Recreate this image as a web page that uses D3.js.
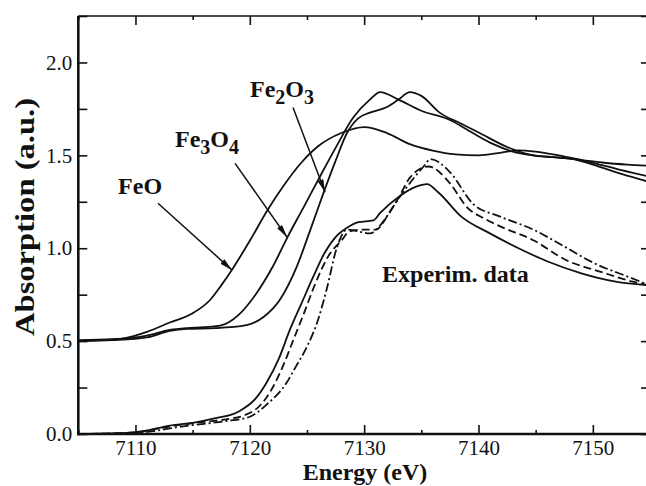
<!DOCTYPE html>
<html>
<head>
<meta charset="utf-8">
<script src="https://cdn.jsdelivr.net/npm/d3@7"></script>
<style>
  body { margin: 0; background: #fff; }
  svg { display: block; }
  svg text { font-family: "Liberation Serif", "Times New Roman", Times, serif !important; fill: #111; }
</style>
</head>
<body>
<svg id="chart" width="646" height="486"></svg>
<script>

var feoE   = [7105, 7107, 7109, 7111, 7113, 7115, 7116.5, 7117.5, 7118.5, 7120, 7121.5, 7123, 7124.5, 7126, 7128, 7130, 7132, 7134, 7136, 7138, 7140, 7142, 7143.5, 7145, 7147, 7149, 7151, 7153, 7155];
var feoA   = [0.500, 0.505, 0.515, 0.55, 0.60, 0.65, 0.72, 0.80, 0.89, 1.04, 1.20, 1.34, 1.46, 1.55, 1.62, 1.652, 1.62, 1.56, 1.525, 1.505, 1.50, 1.515, 1.527, 1.52, 1.50, 1.475, 1.46, 1.45, 1.443];

var fe3o4E = [7105, 7108, 7111, 7113, 7114.5, 7116, 7117.5, 7119, 7120.5, 7122, 7123.3, 7124.7, 7126, 7127.5, 7129, 7130.5, 7131.4, 7133, 7135, 7137.5, 7139.5, 7141.3, 7143, 7144.8, 7146.5, 7148.3, 7150, 7152.5, 7155];
var fe3o4A = [0.505, 0.51, 0.53, 0.56, 0.57, 0.575, 0.585, 0.64, 0.75, 0.90, 1.06, 1.22, 1.37, 1.54, 1.70, 1.80, 1.84, 1.80, 1.74, 1.69, 1.62, 1.56, 1.52, 1.50, 1.49, 1.48, 1.46, 1.42, 1.385];

var fe2o3E = [7105, 7108, 7111, 7113, 7114.5, 7117, 7119.7, 7121.2, 7122.6, 7124.1, 7125.3, 7126.4, 7127.5, 7128.5, 7129.5, 7130.5, 7132, 7133, 7134, 7135, 7136.6, 7138.5, 7140.1, 7142.5, 7144.8, 7146.5, 7148.3, 7150, 7152.5, 7155];
var fe2o3A = [0.50, 0.505, 0.52, 0.555, 0.566, 0.57, 0.586, 0.63, 0.72, 0.90, 1.10, 1.29, 1.47, 1.62, 1.70, 1.73, 1.76, 1.80, 1.84, 1.82, 1.73, 1.67, 1.62, 1.545, 1.50, 1.49, 1.48, 1.45, 1.40, 1.356];

var exp1E = [7105, 7108, 7110, 7111.5, 7113, 7115, 7117, 7119, 7120.5, 7121.5, 7122.5, 7123.5, 7124.5, 7125.5, 7126.5, 7127.5, 7128.5, 7129.5, 7130.8, 7131.4, 7133.1, 7134.5, 7135.5, 7136.5, 7138.5, 7141, 7143.5, 7146, 7149, 7152, 7155];
var exp1A = [0.0, 0.003, 0.01, 0.025, 0.045, 0.06, 0.085, 0.12, 0.19, 0.28, 0.40, 0.56, 0.70, 0.84, 0.97, 1.06, 1.11, 1.14, 1.15, 1.19, 1.28, 1.33, 1.345, 1.30, 1.17, 1.08, 1.00, 0.93, 0.865, 0.82, 0.80];

var exp2E = [7105, 7110, 7112, 7114, 7116, 7118, 7119.5, 7121, 7122, 7123, 7123.8, 7124.8, 7125.6, 7127, 7128, 7128.7, 7129.8, 7131, 7132.2, 7133, 7134, 7135.6, 7137.5, 7139, 7140.5, 7142, 7144.8, 7147.7, 7150.7, 7153.5, 7155];
var exp2A = [0.0, 0.008, 0.03, 0.05, 0.065, 0.08, 0.10, 0.16, 0.25, 0.38, 0.505, 0.66, 0.79, 0.97, 1.04, 1.09, 1.10, 1.10, 1.19, 1.27, 1.38, 1.44, 1.35, 1.22, 1.16, 1.115, 1.043, 0.935, 0.873, 0.82, 0.80];

var exp3E = [7105, 7110, 7112, 7114, 7116, 7118, 7120, 7121.5, 7123.2, 7124, 7125, 7126, 7126.7, 7127.6, 7128.5, 7129.5, 7130.5, 7131.5, 7132.5, 7133.5, 7135.2, 7135.8, 7137.5, 7139.5, 7141.9, 7144.8, 7147.2, 7150.1, 7153.1, 7155];
var exp3A = [0.0, 0.005, 0.02, 0.04, 0.055, 0.07, 0.093, 0.16, 0.274, 0.36, 0.47, 0.62, 0.774, 1.00, 1.10, 1.09, 1.08, 1.13, 1.22, 1.31, 1.44, 1.48, 1.41, 1.24, 1.17, 1.10, 1.02, 0.92, 0.846, 0.80];

var xTicks = [7105, 7110, 7115, 7120, 7125, 7130, 7135, 7140, 7145, 7150, 7155];
var yTicks = [0, 0.25, 0.5, 0.75, 1.0, 1.25, 1.5, 1.75, 2.0, 2.25];

// labels and arrows (energy, absorption)
var labelNames = ["FeO", "Fe3O4", "Fe2O3", "Experim. data"];
var labelPos   = [[7108.48, 1.29], [7113.46, 1.543], [7120.02, 1.812], [7131.57, 0.817]];
var arrowFrom  = [[7111.97, 1.242], [7118.71, 1.457], [7123.78, 1.758]];
var arrowTo    = [[7118.45, 0.882], [7123.26, 1.059], [7126.58, 1.301]];

var serif = "'Liberation Serif', 'Times New Roman', Times, serif";

var svg = d3.select("#chart");

var plotLeft = 78.3, plotRight = 650, plotTop = 16, plotBottom = 434;

var x = d3.scaleLinear().domain([7105, 7155]).range([plotLeft, plotRight]);
var y = d3.scaleLinear().domain([0, 2.25]).range([plotBottom, plotTop]);

function zip(es, as) {
    return es.map(function(e, i) { return [e, as[i]]; });
}

var line = d3.line()
    .x(function(d) { return x(d[0]); })
    .y(function(d) { return y(d[1]); })
    .curve(d3.curveMonotoneX);

var series = [
    {data: zip(feoE, feoA), dash: null},
    {data: zip(fe3o4E, fe3o4A), dash: null},
    {data: zip(fe2o3E, fe2o3A), dash: null},
    {data: zip(exp1E, exp1A), dash: null},
    {data: zip(exp2E, exp2A), dash: "8,4"},
    {data: zip(exp3E, exp3A), dash: "9,3,2,3"}
];

svg.append("defs").append("clipPath").attr("id", "plotClip")
    .append("rect")
    .attr("x", plotLeft).attr("y", plotTop)
    .attr("width", plotRight - plotLeft).attr("height", plotBottom - plotTop);

svg.append("g")
    .attr("clip-path", "url(#plotClip)")
    .selectAll("path")
    .data(series)
    .enter().append("path")
    .attr("d", function(d) { return line(d.data); })
    .attr("fill", "none")
    .attr("stroke", "#111")
    .attr("stroke-width", 1.8)
    .attr("stroke-dasharray", function(d) { return d.dash; });

// axes, ticks pointing inward on all four sides
var isMajorX = function(v) { return v % 10 === 0; };
var isMajorY = function(v) { return Math.abs(v * 2 - Math.round(v * 2)) < 1e-6; };

function styleAxis(g, majorFn, majorLen, minorLen, vertical, sign) {
    g.attr("font-family", serif);
    g.select(".domain").remove();
    g.selectAll(".tick line")
        .attr("stroke", "#111")
        .attr("stroke-width", 1.6)
        .each(function(v) {
            var len = majorFn(v) ? majorLen : minorLen;
            if (vertical) d3.select(this).attr("y2", sign * len);
            else d3.select(this).attr("x2", sign * len);
        });
    g.selectAll(".tick text")
        .attr("font-size", 21)
        .attr("font-family", serif)
        .attr("fill", "#111");
}

var xAxis = svg.append("g")
    .attr("transform", "translate(0," + plotBottom + ")")
    .call(d3.axisBottom(x).tickValues(xTicks).tickSize(-9).tickPadding(6)
        .tickFormat(function(v) { return isMajorX(v) ? v : ""; }));
styleAxis(xAxis, isMajorX, 9, 4, true, -1);

var xAxisTop = svg.append("g")
    .attr("transform", "translate(0," + plotTop + ")")
    .call(d3.axisTop(x).tickValues(xTicks).tickSize(-9).tickFormat(""));
styleAxis(xAxisTop, isMajorX, 9, 4, true, 1);

var yAxis = svg.append("g")
    .attr("transform", "translate(" + plotLeft + ",0)")
    .call(d3.axisLeft(y).tickValues(yTicks).tickSize(-9).tickPadding(6)
        .tickFormat(function(v) { return isMajorY(v) && v < 2.25 ? d3.format(".1f")(v) : ""; }));
styleAxis(yAxis, isMajorY, 9, 9, false, 1);

var yAxisRight = svg.append("g")
    .attr("transform", "translate(" + plotRight + ",0)")
    .call(d3.axisRight(y).tickValues(yTicks).tickSize(-9).tickFormat(""));
styleAxis(yAxisRight, isMajorY, 9, 9, false, -1);

// frame: left and bottom heavier than top and right
svg.append("line").attr("x1", plotLeft).attr("x2", plotRight).attr("y1", plotTop).attr("y2", plotTop)
    .attr("stroke", "#111").attr("stroke-width", 1.5);
svg.append("line").attr("x1", plotRight).attr("x2", plotRight).attr("y1", plotTop).attr("y2", plotBottom)
    .attr("stroke", "#111").attr("stroke-width", 1.5);
svg.append("line").attr("x1", plotLeft).attr("x2", plotLeft).attr("y1", plotTop).attr("y2", plotBottom + 1.3)
    .attr("stroke", "#111").attr("stroke-width", 2.6);
svg.append("line").attr("x1", plotLeft - 1.3).attr("x2", plotRight).attr("y1", plotBottom).attr("y2", plotBottom)
    .attr("stroke", "#111").attr("stroke-width", 2.6);

// axis titles
svg.append("text")
    .attr("x", 365).attr("y", 480)
    .attr("text-anchor", "middle")
    .attr("font-family", serif)
    .attr("font-size", 24).attr("font-weight", "bold")
    .text("Energy (eV)");

svg.append("text")
    .attr("transform", "translate(34,217) rotate(-90)")
    .attr("text-anchor", "middle")
    .attr("font-family", serif)
    .attr("textLength", 238).attr("lengthAdjust", "spacingAndGlyphs")
    .attr("font-size", 27).attr("font-weight", "bold")
    .text("Absorption (a.u.)");

// annotations
svg.append("defs").append("marker")
    .attr("id", "head")
    .attr("viewBox", "0 0 13 6")
    .attr("refX", 13).attr("refY", 3)
    .attr("markerWidth", 13).attr("markerHeight", 6)
    .attr("markerUnits", "userSpaceOnUse")
    .attr("orient", "auto")
    .append("path")
    .attr("d", "M0,0 L13,3 L0,6 Z")
    .attr("fill", "#111");

svg.selectAll(".arrow")
    .data(arrowFrom)
    .enter().append("line")
    .attr("class", "arrow")
    .attr("x1", function(d) { return x(d[0]); })
    .attr("y1", function(d) { return y(d[1]); })
    .attr("x2", function(d, i) { return x(arrowTo[i][0]); })
    .attr("y2", function(d, i) { return y(arrowTo[i][1]); })
    .attr("stroke", "#111")
    .attr("stroke-width", 1.5)
    .attr("marker-end", "url(#head)");

var labels = svg.selectAll(".label")
    .data(labelNames)
    .enter().append("text")
    .attr("class", "label")
    .attr("x", function(d, i) { return x(labelPos[i][0]); })
    .attr("y", function(d, i) { return y(labelPos[i][1]); })
    .attr("font-family", serif)
    .attr("font-size", 24).attr("font-weight", "bold");

labels.each(function(name) {
    var t = d3.select(this);
    if (name.indexOf(" ") >= 0) { t.text(name); return; }
    // digits in the formula become subscripts
    var parts = name.match(/[A-Za-z]+|[0-9]/g);
    var lowered = false;
    parts.forEach(function(p) {
        if (/[0-9]/.test(p)) {
            t.append("tspan").attr("dy", lowered ? 0 : 7).attr("font-size", 20).text(p);
            lowered = true;
        } else {
            t.append("tspan").attr("dy", lowered ? -7 : 0).text(p);
            lowered = false;
        }
    });
});

</script>
</body>
</html>
